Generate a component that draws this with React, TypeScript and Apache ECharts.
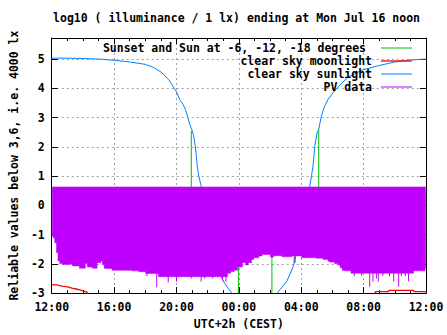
import { useEffect, useRef } from 'react';
import * as echarts from 'echarts';

// ---------- data (hours since Sun 00:00 CEST; 12 = 12:00, 36 = next 12:00) ----------
const titleText = 'log10 ( illuminance / 1 lx) ending at Mon Jul 16 noon';
const xName = 'UTC+2h (CEST)';
const yName = 'Reliable values below 3,6, i.e. 4000 lx';
const legendNames = ['Sunset and Sun at -6, -12, -18 degrees', 'clear sky moonlight', 'clear sky sunlight', 'PV data'];

// clear sky sunlight (log10 lx)
const sunlight: [number, number][] = [
  [12.0, 5.03], [13.0, 5.03], [14.0, 5.02], [15.0, 5.0], [16.0, 4.96], [17.0, 4.9], [18.0, 4.82],
  [18.5, 4.72], [19.0, 4.56], [19.5, 4.3], [20.0, 3.88], [20.21, 3.61], [20.42, 3.45], [20.57, 3.28],
  [20.7, 3.05], [20.85, 2.77], [21.01, 2.54], [21.1, 2.38], [21.2, 2.04], [21.27, 1.7], [21.33, 1.36],
  [21.42, 1.02], [21.58, 0.67], [21.8, 0.05], [22.0, -0.55], [22.2, -1.1], [22.44, -1.85], [22.7, -2.25],
  [22.85, -2.43], [23.06, -2.64], [23.27, -2.8], [23.48, -2.95], [23.7, -3.15],
  [26.3, -3.15], [26.5, -2.97], [26.76, -2.8], [27.07, -2.6], [27.28, -2.35], [27.5, -2.07], [27.6, -1.85],
  [27.85, -1.2], [28.1, -0.4], [28.3, 0.1], [28.55, 0.67], [28.66, 1.02], [28.76, 1.36], [28.87, 2.04],
  [29.02, 2.49], [29.12, 2.6], [29.29, 3.05], [29.5, 3.39], [29.71, 3.61], [30.03, 3.84], [30.5, 4.12],
  [31.0, 4.38], [32.0, 4.64], [33.0, 4.78], [34.0, 4.9], [35.0, 4.97], [36.0, 5.0],
];

// clear sky moonlight (log10 lx)
const moonlight: [number, number][] = [
  [12.0, -2.71], [12.4, -2.73], [12.65, -2.76], [13.0, -2.79], [13.3, -2.83], [13.55, -2.86],
  [13.8, -2.89], [14.0, -2.92], [14.24, -2.96], [14.5, -3.2],
  [32.5, -3.2], [32.77, -2.95], [33.6, -2.95], [33.62, -2.91], [35.2, -2.91], [35.22, -2.95], [36.0, -2.95],
];

// sunset, sun at -6, -12 (evening), -12, -6 (morning), sunrise: hour and sunlight level there
const sunEventHours = [20.95, 22.49, 23.97, 26.12, 27.54, 29.12];
const sunEventLevels = [2.54, -1.7, -3.2, -3.2, -1.96, 2.6];
const sunEventLineTo = 0;

// PV data: band between an upper edge and a stepped lower edge, plus downward spikes
const pvStart = 12.03;
const pvEnd = 35.98;
const pvTop = 0.63;
const pvBottomSteps: [number, number][] = [
  [12.03, -1.05], [12.08, -1.11], [12.19, -1.28], [12.3, -1.62], [12.4, -1.9], [12.51, -1.99],
  [12.7, -2.02], [13.25, -1.99], [13.33, -2.07], [13.77, -2.15], [14.15, -1.99], [14.28, -2.11],
  [14.6, -2.15], [14.91, -1.96], [15.15, -1.9], [15.25, -2.02], [15.36, -2.15], [15.46, -2.16],
  [15.86, -2.22], [17.13, -2.24], [17.57, -2.27], [18.02, -2.33], [18.84, -2.44], [23.27, -2.32],
  [23.48, -2.26], [23.7, -2.22], [23.91, -2.11], [24.22, -1.96], [24.43, -2.04], [24.6, -1.96],
  [24.81, -1.85], [24.96, -1.79], [25.28, -1.73], [25.49, -1.68], [26.02, -1.77], [26.23, -1.72],
  [26.76, -1.76], [27.39, -1.73], [28.02, -1.79], [28.97, -1.81], [29.4, -1.85], [29.71, -1.9],
  [29.81, -1.94], [30.13, -1.99], [30.35, -2.04], [30.49, -2.13], [30.62, -2.22], [30.77, -2.24],
  [31.19, -2.32], [35.2, -2.24], [35.94, -2.15],
];
const pvSpikes: [number, number][] = [
  [18.1, -2.42], [18.73, -2.8], [19.47, -2.64], [20.0, -2.61], [20.95, -2.5], [21.58, -2.61],
  [21.8, -2.5], [22.32, -2.5], [22.96, -2.58], [23.17, -2.61], [27.6, -1.96], [31.4, -2.42],
  [31.87, -2.42], [32.39, -2.78], [32.6, -2.61], [32.82, -2.5], [32.94, -2.61], [33.23, -2.42],
  [33.66, -2.42], [33.93, -2.61], [34.25, -2.78], [34.42, -2.42], [34.67, -2.42], [34.88, -2.6],
];

// ---------- styles ----------
const FONT = '"DejaVu Sans Mono", monospace';
const FS = 11.5;
const GREEN = '#00c000';
const RED = '#ff0000';
const BLUE = '#0080ff';
const PURPLE = '#c000ff';
const GRID_COLOR = '#a0a0a0';

function fmtHour(v: number) {
  const h = ((v % 24) + 24) % 24;
  return String(h).padStart(2, '0') + ':00';
}

export default function App() {
  const ref = useRef<HTMLDivElement>(null);
  useEffect(() => {
    if (!ref.current) return;
    const chart = echarts.init(ref.current, undefined, { renderer: 'svg' });

    const textBase = { fontFamily: FONT, fontWeight: 'bold' as const, fontSize: FS, color: '#000' };
    const axisLine = { show: true, onZero: false, lineStyle: { color: '#000', width: 1 } };
    const splitLine = { show: true, lineStyle: { color: GRID_COLOR, width: 1, type: [2, 3] } };

    const legendY = [48, 61, 74, 87];
    const legendTextX = [366, 372, 372, 372];
    const legendColors = [GREEN, RED, BLUE, PURPLE];
    const graphic: any[] = [
      {
        type: 'text', x: 236.5, y: 18, z: 100,
        style: {
          text: titleText, font: `bold ${FS}px ${FONT}`, fill: '#000',
          align: 'center', verticalAlign: 'middle', textAlign: 'center', textVerticalAlign: 'middle',
        },
      },
    ];
    legendNames.forEach((name, i) => {
      graphic.push({
        type: 'text', x: legendTextX[i], y: legendY[i], z: 100,
        style: {
          text: name, font: `bold ${FS}px ${FONT}`, fill: '#000',
          align: 'right', verticalAlign: 'middle', textAlign: 'right', textVerticalAlign: 'middle',
        },
      });
      graphic.push({
        type: 'line', z: 100,
        shape: { x1: 381, y1: legendY[i], x2: 412, y2: legendY[i] },
        style: { stroke: legendColors[i], lineWidth: i === 1 ? 1.3 : 1 },
      });
    });

    const option: any = {
      animation: false,
      backgroundColor: '#ffffff',
      textStyle: textBase,
      grid: { left: 47, right: 21, top: 38, bottom: 39 },
      graphic,
      xAxis: [
        {
          type: 'value', min: 12, max: 36, interval: 4, position: 'bottom',
          name: xName, nameLocation: 'middle', nameGap: 24,
          nameTextStyle: textBase,
          axisLine,
          axisTick: { show: true, inside: true, length: 6, lineStyle: { color: '#000' } },
          minorTick: { show: true, splitNumber: 4, length: 3, lineStyle: { color: '#000' } },
          axisLabel: { ...textBase, margin: 8, formatter: (v: number) => fmtHour(v) },
          splitLine,
        },
        {
          type: 'value', min: 12, max: 36, interval: 4, position: 'top',
          axisLine,
          axisTick: { show: true, inside: true, length: 6, lineStyle: { color: '#000' } },
          minorTick: { show: true, splitNumber: 4, length: 3, lineStyle: { color: '#000' } },
          axisLabel: { show: false },
          splitLine: { show: false },
        },
      ],
      yAxis: [
        {
          type: 'value', min: -3, max: 5.72, interval: 1, position: 'left',
          name: yName, nameLocation: 'middle', nameGap: 27,
          nameTextStyle: textBase,
          axisLine,
          axisTick: { show: true, inside: true, length: 6, lineStyle: { color: '#000' } },
          axisLabel: {
            ...textBase, margin: 7, showMaxLabel: false,
            formatter: (v: number) => (Number.isInteger(v) ? String(v) : ''),
          },
          splitLine,
        },
        {
          type: 'value', min: -3, max: 5.72, interval: 1, position: 'right',
          axisLine,
          axisTick: { show: true, inside: true, length: 6, lineStyle: { color: '#000' } },
          axisLabel: { show: false },
          splitLine: { show: false },
        },
      ],
      series: [
        {
          name: legendNames[0],
          type: 'custom',
          xAxisIndex: 0, yAxisIndex: 0,
          z: 2,
          clip: true,
          data: sunEventHours.map((h, i) => [h, sunEventLevels[i]]),
          renderItem: (_p: any, api: any) => {
            const a = api.coord([api.value(0), api.value(1)]);
            const b = api.coord([api.value(0), sunEventLineTo]);
            return {
              type: 'line',
              shape: { x1: a[0], y1: a[1], x2: b[0], y2: b[1] },
              style: { stroke: GREEN, lineWidth: 1 },
            };
          },
        },
        {
          name: legendNames[1],
          type: 'line',
          xAxisIndex: 0, yAxisIndex: 0,
          z: 3,
          data: moonlight,
          symbol: 'none',
          clip: true,
          lineStyle: { color: RED, width: 1.3 },
        },
        {
          name: legendNames[2],
          type: 'line',
          xAxisIndex: 0, yAxisIndex: 0,
          z: 4,
          data: sunlight,
          symbol: 'none',
          clip: true,
          lineStyle: { color: BLUE, width: 1 },
        },
        {
          name: legendNames[3],
          type: 'custom',
          xAxisIndex: 0, yAxisIndex: 0,
          z: 6,
          clip: true,
          data: [[pvStart, pvTop]],
          renderItem: (_p: any, api: any) => {
            const pts: number[][] = [];
            pts.push(api.coord([pvStart, pvTop]));
            pts.push(api.coord([pvEnd, pvTop]));
            for (let i = pvBottomSteps.length - 1; i >= 0; i--) {
              const [h, v] = pvBottomSteps[i];
              const end = i === pvBottomSteps.length - 1 ? pvEnd : pvBottomSteps[i + 1][0];
              pts.push(api.coord([end, v]));
              pts.push(api.coord([h, v]));
            }
            const children: any[] = [
              { type: 'polygon', shape: { points: pts }, style: { fill: PURPLE, stroke: PURPLE, lineWidth: 0.5 } },
            ];
            pvSpikes.forEach(([h, v]) => {
              const a = api.coord([h, -1.7]);
              const b = api.coord([h, v]);
              children.push({
                type: 'line',
                shape: { x1: a[0], y1: a[1], x2: b[0], y2: b[1] },
                style: { stroke: PURPLE, lineWidth: 1 },
              });
            });
            return { type: 'group', children };
          },
        },
      ],
    };
    chart.setOption(option);
    return () => chart.dispose();
  }, []);

  return (
    <div
      ref={ref}
      style={{ position: 'fixed', left: 0, top: 0, width: 447, height: 335, background: '#fff' }}
    />
  );
}
